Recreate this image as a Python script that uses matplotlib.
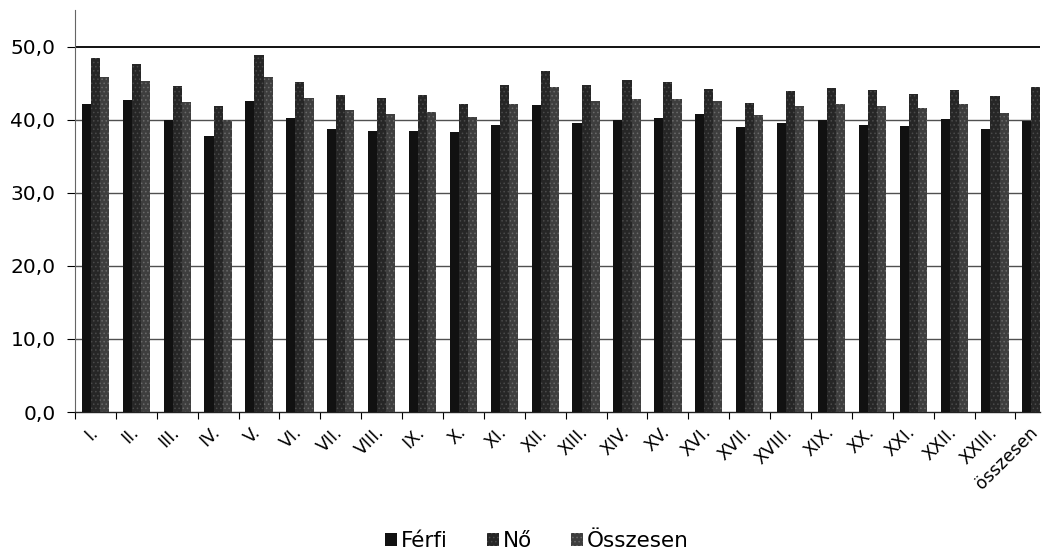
import matplotlib
matplotlib.use("Agg")
import matplotlib.pyplot as plt
import matplotlib.transforms as mtransforms
import numpy as np
from matplotlib.ticker import FuncFormatter

categories = ["I.", "II.", "III.", "IV.", "V.", "VI.", "VII.", "VIII.", "IX.", "X.",
              "XI.", "XII.", "XIII.", "XIV.", "XV.", "XVI.", "XVII.", "XVIII.", "XIX.",
              "XX.", "XXI.", "XXII.", "XXIII.", "összesen"]

ferfi = [42.2, 42.7, 39.9, 37.8, 42.5, 40.2, 38.7, 38.4, 38.4, 38.3, 39.2, 42.0,
         39.5, 39.9, 40.2, 40.8, 39.0, 39.6, 39.9, 39.3, 39.1, 40.1, 38.7, 39.8]
no = [48.5, 47.6, 44.6, 41.8, 48.9, 45.1, 43.4, 42.9, 43.4, 42.2, 44.7, 46.7,
      44.8, 45.4, 45.2, 44.2, 42.3, 43.9, 44.3, 44.1, 43.5, 44.0, 43.2, 44.4]
osszesen = [45.8, 45.3, 42.4, 39.9, 45.9, 42.9, 41.3, 40.8, 41.0, 40.4, 42.1, 44.5,
            42.5, 42.8, 42.8, 42.6, 40.6, 41.8, 42.2, 41.8, 41.6, 42.1, 40.9, 42.1]

series_names = ["Férfi", "Nő", "Összesen"]
colors = ["#111111", "#262626", "#3e3e3e"]
speckle = [None, "#4a4a4a", "#6a6a6a"]

plt.rcParams["font.family"] = ["DejaVu Sans"]
plt.rcParams["hatch.linewidth"] = 0.6

W, H = 1045, 554
fig = plt.figure(figsize=(W / 100, H / 100), dpi=100)
ax = fig.add_axes([75 / W, (H - 412) / H, 965 / W, 402 / H])

x = np.arange(len(categories))
bw = 1 / 4.5  # three bars plus a 150% gap per category
for i, (vals, name, col, sp) in enumerate(zip([ferfi, no, osszesen], series_names,
                                              colors, speckle)):
    if sp is None:
        ax.bar(x + (i - 1) * bw, vals, width=bw, color=col, label=name,
               edgecolor="none", zorder=3)
    else:
        ax.bar(x + (i - 1) * bw, vals, width=bw, facecolor=col, label=name,
               edgecolor=sp, linewidth=0, hatch="....", zorder=3)

# gridlines
for v in range(10, 51, 10):
    if v == 50:
        ax.axhline(v, color="#111111", lw=1.4, zorder=1)
    else:
        ax.axhline(v, color="#505050", lw=1.0, zorder=1)

ax.set_yticks(range(0, 51, 10))
ax.yaxis.set_major_formatter(FuncFormatter(lambda v, p: f"{v:.1f}".replace(".", ",")))
ax.tick_params(axis="y", direction="out", length=6, width=0.8, pad=8,
               labelsize=14.5, colors="black")

ax.set_xticks(x)
ax.set_xticklabels(categories, rotation=45, ha="right", va="top",
                   rotation_mode="anchor", fontsize=12.5)
ax.set_xticks(np.arange(-0.5, 23.1, 1), minor=True)
ax.tick_params(axis="x", which="major", length=0, pad=8)
ax.tick_params(axis="x", which="minor", direction="out", length=5, width=0.8)

# nudge the slanted category labels a little to the left
shift = mtransforms.ScaledTranslation(-7 / 100, 0, fig.dpi_scale_trans)
for lbl in ax.get_xticklabels():
    lbl.set_transform(lbl.get_transform() + shift)

ax.set_xlim(-0.5, 23.1)
ax.set_ylim(0, 55)

for s in ["top", "right"]:
    ax.spines[s].set_visible(False)
ax.spines["left"].set_color("#666666")
ax.spines["bottom"].set_color("#222222")
ax.spines["left"].set_linewidth(0.8)
ax.spines["bottom"].set_linewidth(1.0)

fig.legend(loc="lower center", bbox_to_anchor=(0.514, -0.03), ncol=3, frameon=False,
           fontsize=15.5, handlelength=0.55, handleheight=0.55, handletextpad=0.2,
           columnspacing=1.8)

fig.savefig("out.png", dpi=100, facecolor="white")
